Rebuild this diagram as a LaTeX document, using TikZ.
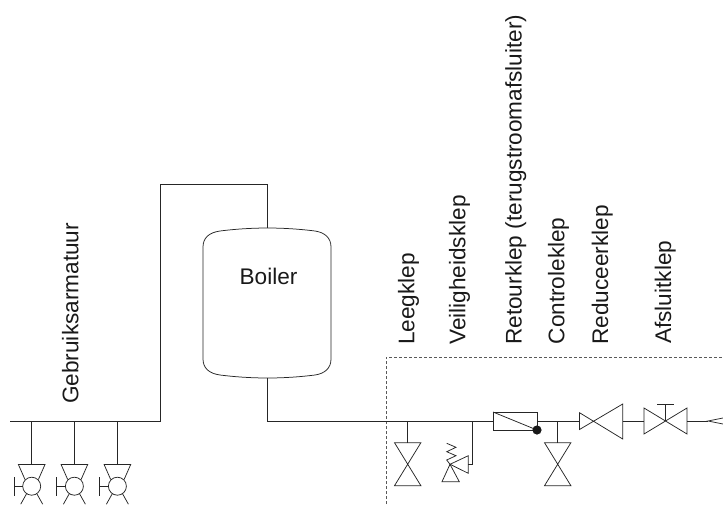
\documentclass[tikz,border=0pt]{standalone}
\usepackage{fontspec}
\setmainfont{Liberation Sans}
\tikzset{
  pipe/.style={draw=black!85,line width=0.75pt,line join=miter},
  lbl/.style={rotate=90,anchor=base west,inner sep=0pt,font=\fontsize{22.6}{26}\selectfont,text=black!90},
  pics/crossvalve/.style={code={
    \draw[pipe] (-13.2,0) -- (13.2,0) -- (-13.2,43) -- (13.2,43) -- cycle;
  }},
  pics/fixture/.style={code={
    \draw[pipe] (0,0) -- (0,-43);
    \draw[pipe] (-6.7,15) -- (-13.3,0) -- (13.3,0) -- (6.7,15);
    \draw[pipe] (0,21.7) circle (9);
    \draw[pipe] (-5,29) -- (-11,39.7);
    \draw[pipe] (5,29) -- (11,39.7);
    \draw[pipe] (-9,21.7) -- (-17.7,21.7);
    \draw[pipe] (-17.7,12.5) -- (-17.7,31);
  }}
}
\begin{document}
\begin{tikzpicture}[x=1pt,y=-1pt]
\useasboundingbox (0,0) rectangle (723,504);
% junctions
\coordinate (start) at (10,421.5);
\coordinate (riser) at (160.5,421.5);
\coordinate (risertop) at (160.5,184.5);
\coordinate (over) at (267.7,184.5);
\coordinate (boiltop) at (267.7,228);
\coordinate (boilbot) at (267.7,378);
\coordinate (boilout) at (267.7,421);
\coordinate (chkin) at (493,421);
\coordinate (chkout) at (537,421);
\coordinate (redin) at (579.5,421);
\coordinate (redout) at (622.7,421);
\coordinate (shutin) at (644,421);
\coordinate (shutout) at (687,421);
\coordinate (tip) at (708,421);
% dashed box
\draw[densely dashed,draw=black!65,line width=0.75pt] (386,504) -- (386,357) -- (723,357);
% pipes
\draw[pipe] (start) -- (riser) -- (risertop) -- (over) -- (boiltop);
\draw[pipe] (boilbot) -- (boilout) -- (chkin);
\draw[pipe] (chkout) -- (redin);
\draw[pipe] (redout) -- (shutin);
\draw[pipe] (shutout) -- (tip);
\draw[pipe] (723,418) -- (tip) -- (723,424);
% boiler
\draw[pipe] (203,247) .. controls (203,238) and (209,232.5) .. (220,231)
  .. controls (236,229) and (252,228) .. (boiltop)
  .. controls (283,228) and (299,229) .. (315,231)
  .. controls (325,232.5) and (331,238) .. (331,247)
  -- (331,359)
  .. controls (331,368) and (325,373.5) .. (315,375)
  .. controls (299,377) and (283,378) .. (boilbot)
  .. controls (252,378) and (236,377) .. (220,375)
  .. controls (209,373.5) and (203,368) .. (203,359) -- cycle;
\node[inner sep=0pt,font=\fontsize{22.6}{26}\selectfont,text=black!90] (boiler) at (268.5,276.5) {Boiler};
% fixtures
\pic at (31.7,464.5) {fixture};
\pic at (74.4,464.5) {fixture};
\pic at (117.4,464.5) {fixture};
% drain valve
\draw[pipe] (407.7,421) -- (407.7,442.7);
\pic at (407.7,442.7) {crossvalve};
% control valve
\draw[pipe] (557.7,421) -- (557.7,442.7);
\pic at (557.7,442.7) {crossvalve};
% safety valve
\draw[pipe] (472,421) -- (472,464.3) -- (468.3,464.3);
\draw[pipe] (450,464.3) -- (468.3,455.7) -- (468.3,473.3) -- cycle;
\draw[pipe] (450,464.3) -- (442,481.7) -- (459.3,481.7) -- cycle;
\draw[pipe] (450,464.3) -- (446.7,460) -- (456,455.7) -- (446.7,451.7) -- (456,447.3) -- (446.7,443.3);
% check valve
\draw[pipe] (493,412) rectangle (537,430);
\draw[pipe] (493,412) -- (537,430);
\fill[black!90] (537,430) circle (4.6);
% reducer
\draw[pipe] (redin) ++(0,-8.3) -- (622.7,439) -- (622.7,404) -- (579.5,429.5) -- cycle;
% shut-off
\draw[pipe] (644,408) -- (687,434) -- (687,408) -- (644,434) -- cycle;
\draw[pipe] (665.5,421) -- (665.5,404);
\draw[pipe] (657,404) -- (674,404);
% labels
\node[lbl] (l1) at (78.3,404) {Gebruiksarmatuur};
\node[lbl] (l2) at (414.3,345) {Leegklep};
\node[lbl] (l3) at (465.3,345) {Veiligheidsklep};
\node[lbl] (l4) at (521.7,345) {Retourklep (terugstroomafsluiter)};
\node[lbl] (l5) at (564.3,344.5) {Controleklep};
\node[lbl] (l6) at (608,345) {Reduceerklep};
\node[lbl] (l7) at (671,344) {Afsluitklep};
\end{tikzpicture}
\end{document}
